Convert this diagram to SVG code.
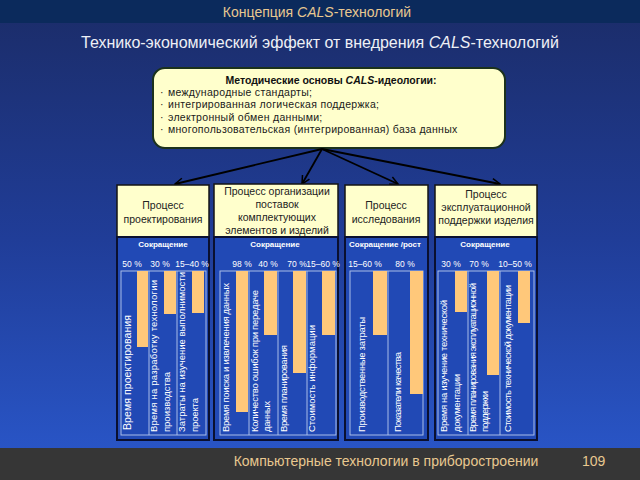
<svg xmlns="http://www.w3.org/2000/svg" width="640" height="480" viewBox="0 0 640 480">
<defs>
<linearGradient id="bg" x1="0" y1="0" x2="0" y2="1">
<stop offset="0" stop-color="#1b2c68"/>
<stop offset="0.5" stop-color="#203d98"/>
<stop offset="1" stop-color="#2a58cc"/>
</linearGradient>
<marker id="ah" markerWidth="10" markerHeight="10" refX="9" refY="5" orient="auto" markerUnits="userSpaceOnUse">
<path d="M1,1 L9,5 L1,9" fill="none" stroke="#000" stroke-width="1.5"/>
</marker>
<style>
.ttl{font-family:"Liberation Sans",Arial,sans-serif;fill:#e8c890;font-size:14px}
.sub{font-family:"Liberation Sans",Arial,sans-serif;fill:#eef0f6;font-size:16px}
.bx{font-family:"Liberation Sans",Arial,sans-serif;fill:#1a1a1a;font-size:10.5px;letter-spacing:0.3px}
.bxb{font-family:"Liberation Sans",Arial,sans-serif;fill:#111;font-size:10.5px;font-weight:bold}
.hd{fill:#ffffcc;stroke:#141414;stroke-width:1.5}
.hdt{font-family:"Liberation Sans",Arial,sans-serif;fill:#222;font-size:10.5px;text-anchor:middle}
.pn{fill:#2149b5;stroke:#0a1030;stroke-width:2}
.in{fill:none;stroke:#a9bde8;stroke-width:1}
.sep{stroke:#a9bde8;stroke-width:1}
.bar{fill:#ffc87a}
.lab{font-family:"Liberation Sans",Arial,sans-serif;fill:#fff;font-size:8px;font-weight:bold;text-anchor:middle}
.pc{font-family:"Liberation Sans",Arial,sans-serif;fill:#fff;font-size:8.5px;text-anchor:middle}
.vt{font-family:"Liberation Sans",Arial,sans-serif;fill:#fff;font-size:9.5px}
.con{stroke:#000;stroke-width:1.8;fill:none}
</style>
</defs>
<rect x="0" y="0" width="640" height="480" fill="url(#bg)"/>
<rect x="0" y="0" width="640" height="23" fill="#0b2a5c"/>
<rect x="0" y="448" width="640" height="32" fill="#363636"/>
<text class="ttl" x="317" y="17" text-anchor="middle">Концепция <tspan font-style="italic">CALS</tspan>-технологий</text>
<text class="sub" x="320" y="48" text-anchor="middle">Технико-экономический эффект от внедрения <tspan font-style="italic">CALS</tspan>-технологий</text>
<text class="ttl" x="386" y="466" text-anchor="middle">Компьютерные технологии в приборостроении</text>
<text class="ttl" x="582" y="466">109</text>

<g id="top">
<rect x="153" y="68" width="352" height="80" rx="12" fill="#ffffcc" stroke="#1c321c" stroke-width="2"/>
<text class="bxb" x="331" y="84" text-anchor="middle">Методические основы <tspan font-style="italic">CALS</tspan>-идеологии:</text>
<text class="bx" x="160" y="96">·</text><text class="bx" x="168" y="96">международные стандарты;</text>
<text class="bx" x="160" y="108">·</text><text class="bx" x="168" y="108">интегрированная логическая поддержка;</text>
<text class="bx" x="160" y="121">·</text><text class="bx" x="168" y="121">электронный обмен данными;</text>
<text class="bx" x="160" y="133">·</text><text class="bx" x="168" y="133">многопользовательская (интегрированная) база данных</text>
</g>

<g id="connectors">
<line class="con" x1="322" y1="149" x2="175" y2="184" marker-end="url(#ah)"/>
<line class="con" x1="322" y1="149" x2="302" y2="184" marker-end="url(#ah)"/>
<line class="con" x1="322" y1="149" x2="398" y2="184" marker-end="url(#ah)"/>
<line class="con" x1="322" y1="149" x2="500" y2="184" marker-end="url(#ah)"/>
</g>

<g id="col1">
<rect class="hd" x="117" y="185" width="92" height="52"/>
<text class="hdt" x="163" y="209">Процесс</text>
<text class="hdt" x="163" y="223">проектирования</text>
<rect class="pn" x="117" y="237" width="92" height="203"/>
<text class="lab" x="163" y="247">Сокращение</text>
<text class="pc" x="132" y="267">50 %</text>
<text class="pc" x="160" y="267">30 %</text>
<text class="pc" x="192" y="267">15–40 %</text>
<rect class="in" x="121" y="271" width="85" height="164"/>
<line class="sep" x1="149" y1="271" x2="149" y2="435"/>
<line class="sep" x1="177" y1="271" x2="177" y2="435"/>
<rect class="bar" x="137" y="271" width="11" height="76"/>
<rect class="bar" x="164" y="271" width="12" height="43"/>
<rect class="bar" x="192" y="271" width="12" height="42"/>
<text class="vt" style="font-size:10.5px" transform="translate(131,430) rotate(-90)" textLength="115" lengthAdjust="spacing">Время проектирования</text>
<text class="vt" transform="translate(157,432) rotate(-90)" textLength="152" lengthAdjust="spacing">Время на разработку технологии</text>
<text class="vt" transform="translate(170,432) rotate(-90)" textLength="60" lengthAdjust="spacing">производства</text>
<text class="vt" transform="translate(185,432) rotate(-90)" textLength="160" lengthAdjust="spacing">Затраты на изучение выполнимости</text>
<text class="vt" transform="translate(198,432) rotate(-90)" textLength="34" lengthAdjust="spacing">проекта</text>
</g>

<g id="col2">
<rect class="hd" x="214" y="184" width="124" height="53"/>
<text class="hdt" x="277" y="195">Процесс организации</text>
<text class="hdt" x="277" y="208">поставок</text>
<text class="hdt" x="277" y="221">комплектующих</text>
<text class="hdt" x="277" y="234">элементов и изделий</text>
<rect class="pn" x="214" y="237" width="124" height="203"/>
<text class="lab" x="275" y="247">Сокращение</text>
<text class="pc" x="242" y="267">98 %</text>
<text class="pc" x="268" y="267">40 %</text>
<text class="pc" x="297" y="267">70 %</text>
<text class="pc" x="323" y="267">15–60 %</text>
<rect class="in" x="220" y="271" width="116" height="164"/>
<line class="sep" x1="249" y1="271" x2="249" y2="435"/>
<line class="sep" x1="278" y1="271" x2="278" y2="435"/>
<line class="sep" x1="307" y1="271" x2="307" y2="435"/>
<rect class="bar" x="236" y="271" width="12" height="141"/>
<rect class="bar" x="264" y="271" width="13" height="64"/>
<rect class="bar" x="293" y="271" width="13" height="102"/>
<rect class="bar" x="322" y="271" width="13" height="64"/>
<text class="vt" transform="translate(229,432) rotate(-90)" textLength="149" lengthAdjust="spacing">Время поиска и извлечения данных</text>
<text class="vt" transform="translate(258,432) rotate(-90)" textLength="142" lengthAdjust="spacing">Количество ошибок при передаче</text>
<text class="vt" transform="translate(270,432) rotate(-90)" textLength="31" lengthAdjust="spacing">данных</text>
<text class="vt" transform="translate(287,432) rotate(-90)" textLength="87" lengthAdjust="spacing">Время планирования</text>
<text class="vt" transform="translate(315,432) rotate(-90)" textLength="107" lengthAdjust="spacing">Стоимость информации</text>
</g>

<g id="col3">
<rect class="hd" x="345" y="185" width="83" height="52"/>
<text class="hdt" x="386" y="209">Процесс</text>
<text class="hdt" x="386" y="223">исследования</text>
<rect class="pn" x="345" y="237" width="83" height="203"/>
<text class="lab" x="385" y="247">Сокращение /рост</text>
<text class="pc" x="365" y="267">15–60 %</text>
<text class="pc" x="405" y="267">80 %</text>
<rect class="in" x="350" y="271" width="73" height="164"/>
<line class="sep" x1="388" y1="271" x2="388" y2="435"/>
<rect class="bar" x="373" y="271" width="14" height="64"/>
<rect class="bar" x="410" y="271" width="13" height="123"/>
<text class="vt" transform="translate(365,432) rotate(-90)" textLength="115" lengthAdjust="spacing">Производственные затраты</text>
<text class="vt" transform="translate(401,432) rotate(-90)" textLength="80" lengthAdjust="spacing">Показатели качества</text>
</g>

<g id="col4">
<rect class="hd" x="435" y="185" width="102" height="52"/>
<text class="hdt" x="486" y="198">Процесс</text>
<text class="hdt" x="486" y="211">эксплуатационной</text>
<text class="hdt" x="486" y="224">поддержки изделия</text>
<rect class="pn" x="435" y="237" width="102" height="203"/>
<text class="lab" x="485" y="247">Сокращение</text>
<text class="pc" x="451" y="267">30 %</text>
<text class="pc" x="479" y="267">70 %</text>
<text class="pc" x="515" y="267">10–50 %</text>
<rect class="in" x="438" y="271" width="96" height="164"/>
<line class="sep" x1="468" y1="271" x2="468" y2="435"/>
<line class="sep" x1="500" y1="271" x2="500" y2="435"/>
<rect class="bar" x="455" y="271" width="12" height="41"/>
<rect class="bar" x="487" y="271" width="12" height="104"/>
<rect class="bar" x="518" y="271" width="12" height="52"/>
<text class="vt" transform="translate(447,432) rotate(-90)" textLength="132" lengthAdjust="spacing">Время на изучение технической</text>
<text class="vt" transform="translate(460,432) rotate(-90)" textLength="58" lengthAdjust="spacing">документации</text>
<text class="vt" transform="translate(476,432) rotate(-90)" textLength="149" lengthAdjust="spacing">Время планирования эксплуатационной</text>
<text class="vt" transform="translate(488,432) rotate(-90)" textLength="41" lengthAdjust="spacing">поддержки</text>
<text class="vt" transform="translate(511,432) rotate(-90)" textLength="147" lengthAdjust="spacing">Стоимость технической документации</text>
</g>
</svg>
